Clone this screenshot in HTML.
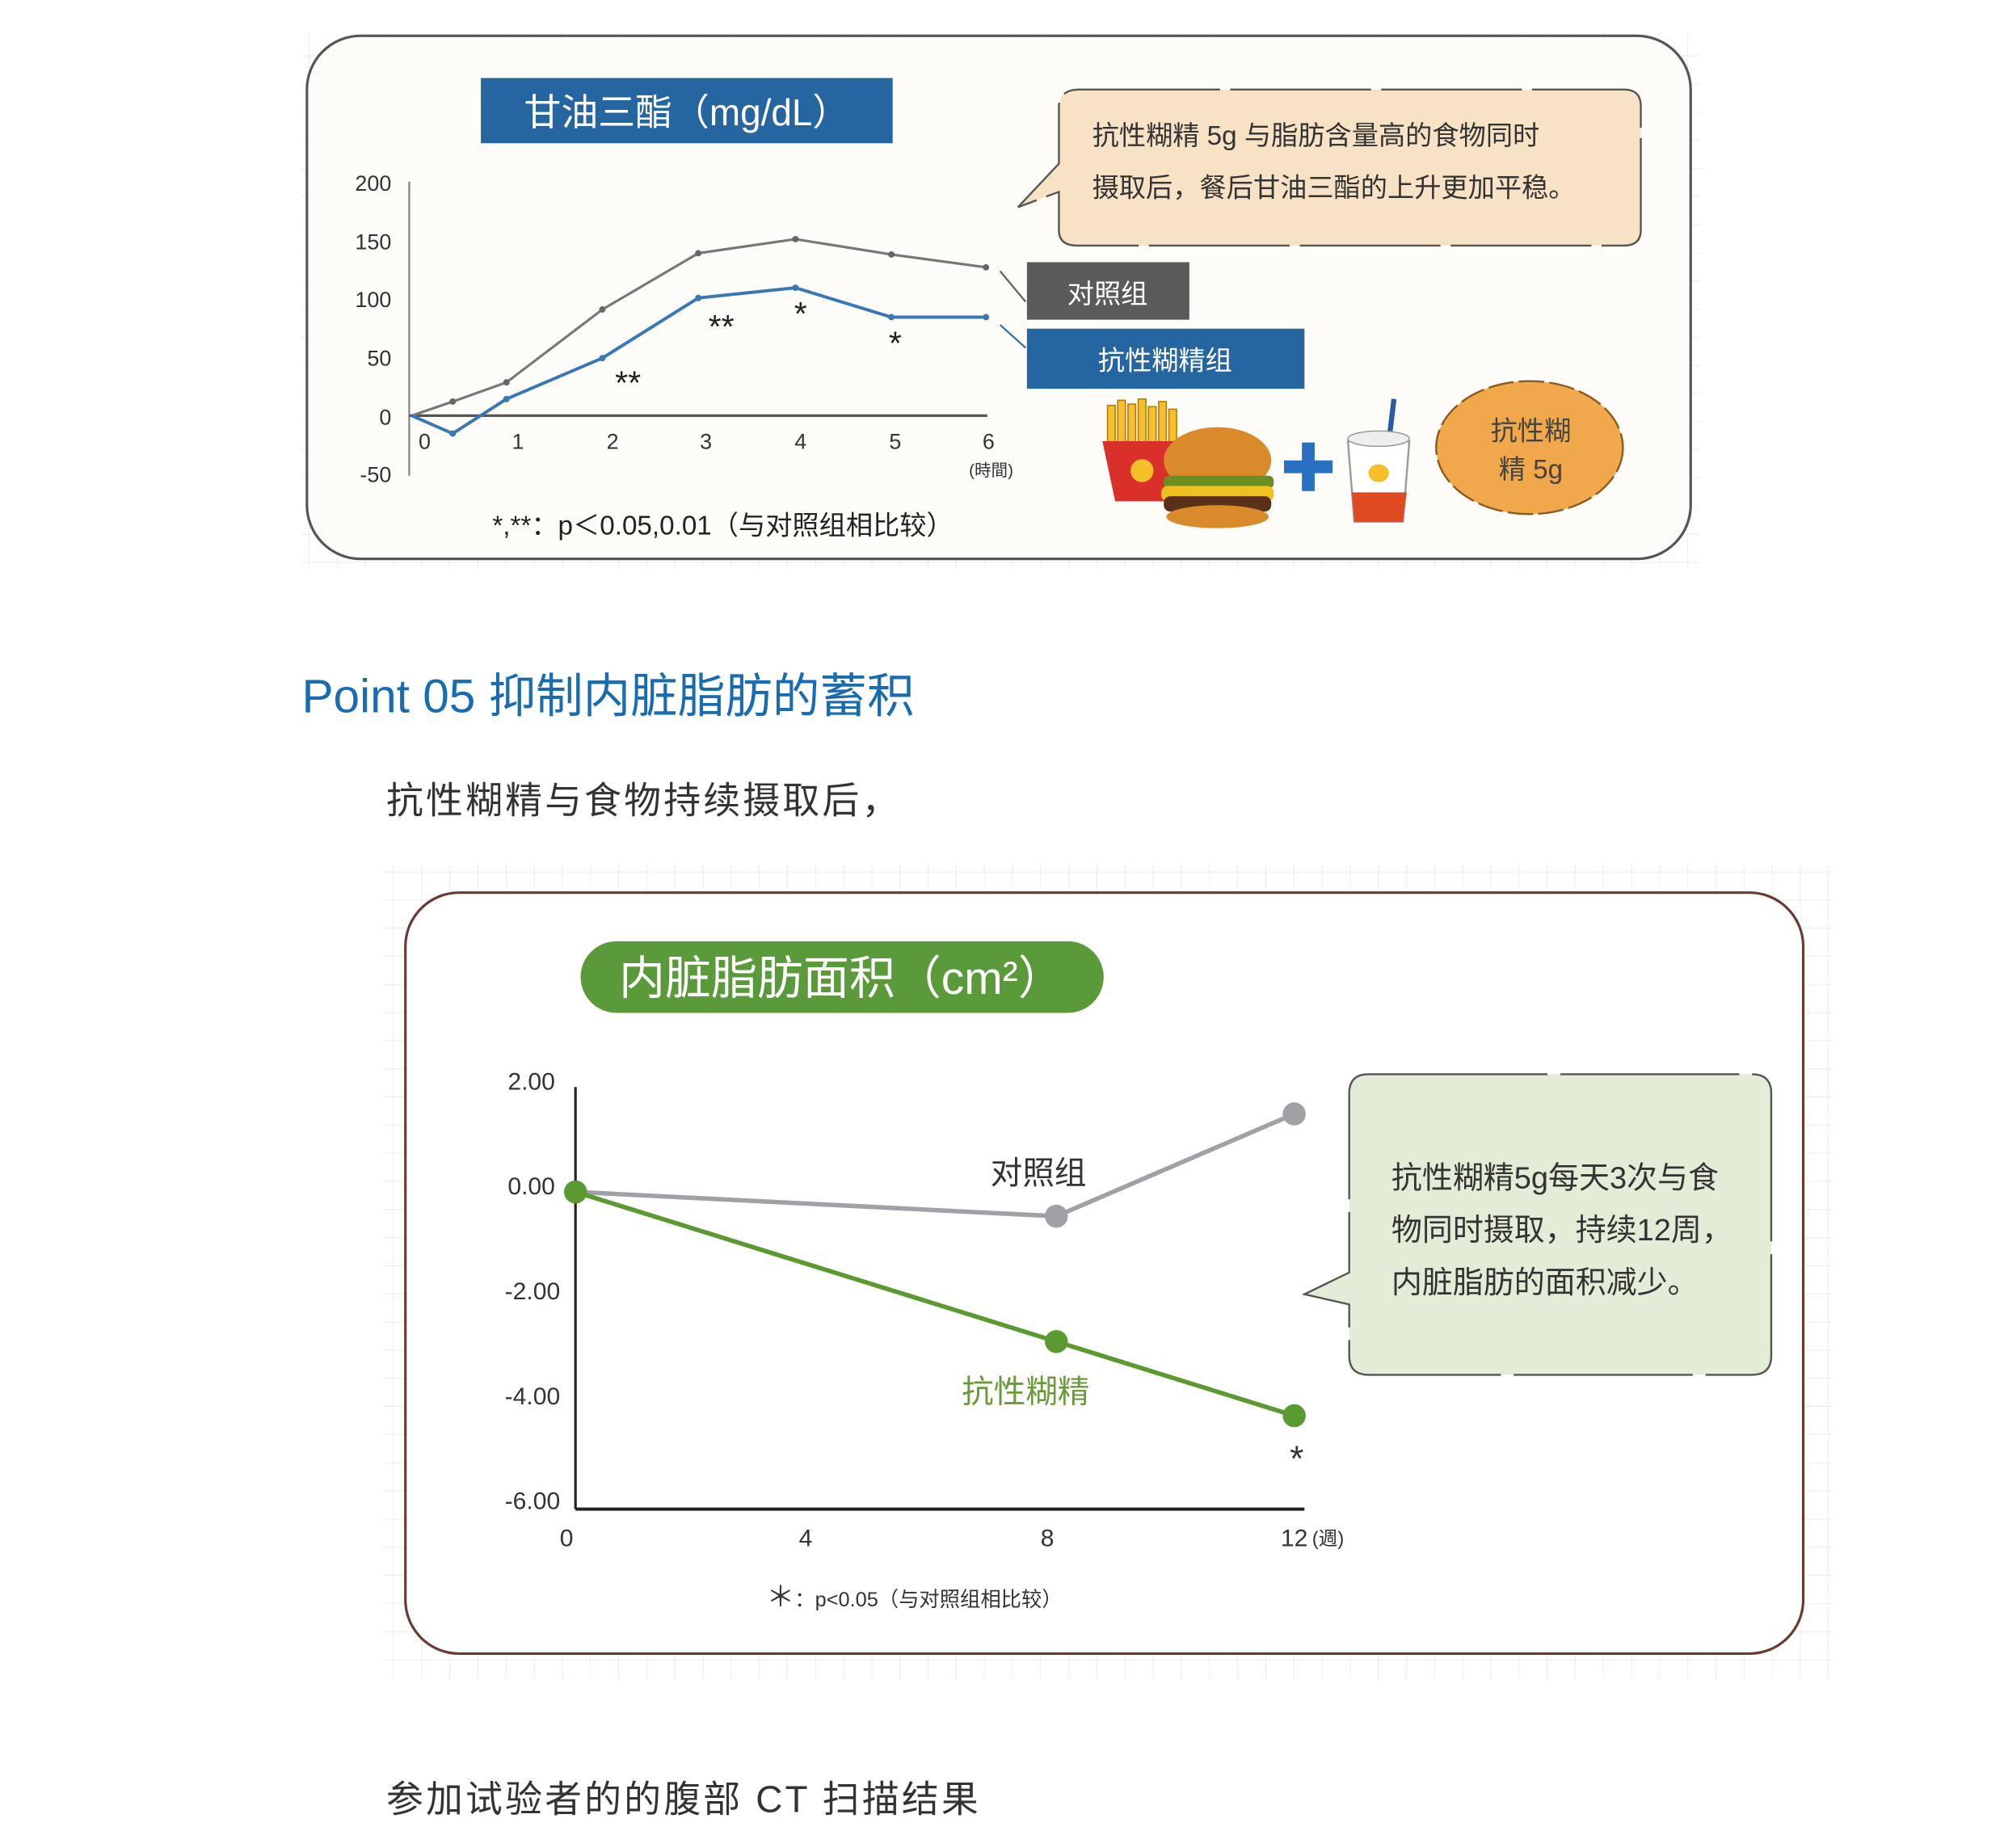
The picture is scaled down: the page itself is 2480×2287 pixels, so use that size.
<!DOCTYPE html>
<html><head><meta charset="utf-8"><style>
html,body{margin:0;padding:0;background:#fff}
svg{display:block}
text{font-family:"Liberation Sans","Noto Sans CJK SC",sans-serif}
</style></head><body>
<svg width="2480" height="2287" viewBox="0 0 1567 1445" preserveAspectRatio="none" xmlns="http://www.w3.org/2000/svg">
<defs>
<pattern id="g" width="22" height="22" patternUnits="userSpaceOnUse"><path d="M22 0V22M0 22H22" stroke="#e6e6e6" stroke-width="1" fill="none"/></pattern>
</defs>
<rect width="1567" height="1445" fill="#fff"/>
<!-- TOP PANEL -->
<rect x="236" y="26" width="1094" height="418" fill="url(#g)"/>
<rect x="240" y="28" width="1082" height="409" rx="42" fill="#fdfcf8" stroke="#555" stroke-width="2"/>
<rect x="376" y="61" width="322" height="51" fill="#2565a0"/>
<text x="537" y="98" font-size="29" fill="#fff" text-anchor="middle">甘油三酯（mg/dL）</text>
<g font-size="17" fill="#333" text-anchor="end">
<text x="306" y="149">200</text><text x="306" y="195">150</text><text x="306" y="240">100</text>
<text x="306" y="286">50</text><text x="306" y="332">0</text><text x="306" y="377">-50</text>
</g>
<line x1="320" y1="142" x2="320" y2="372" stroke="#888" stroke-width="1.5"/>
<line x1="320" y1="325" x2="772" y2="325" stroke="#555" stroke-width="2"/>
<g font-size="17" fill="#333" text-anchor="middle">
<text x="332" y="351">0</text><text x="405" y="351">1</text><text x="479" y="351">2</text><text x="552" y="351">3</text><text x="626" y="351">4</text><text x="700" y="351">5</text><text x="773" y="351">6</text>
<text x="775" y="372" font-size="13">(時間)</text>
</g>
<polyline points="322,325 354,314 396,299 471,242 546,198 622,187 697,199 771,209" fill="none" stroke="#777" stroke-width="2"/>
<polyline points="322,325 354,339 396,312 471,280 546,233 622,225 697,248 771,248" fill="none" stroke="#3a78b5" stroke-width="2.5"/>
<g fill="#666"><circle cx="354" cy="314" r="2.5"/><circle cx="396" cy="299" r="2.5"/><circle cx="471" cy="242" r="2.5"/><circle cx="546" cy="198" r="2.5"/><circle cx="622" cy="187" r="2.5"/><circle cx="697" cy="199" r="2.5"/><circle cx="771" cy="209" r="2.5"/></g>
<g fill="#3a78b5"><circle cx="354" cy="339" r="2.5"/><circle cx="396" cy="312" r="2.5"/><circle cx="471" cy="280" r="2.5"/><circle cx="546" cy="233" r="2.5"/><circle cx="622" cy="225" r="2.5"/><circle cx="697" cy="248" r="2.5"/><circle cx="771" cy="248" r="2.5"/></g>
<line x1="782" y1="212" x2="802" y2="236" stroke="#666" stroke-width="1.5"/>
<line x1="782" y1="254" x2="802" y2="272" stroke="#3a78b5" stroke-width="1.5"/>
<g font-size="26" fill="#222" text-anchor="middle">
<text x="491" y="308">**</text><text x="564" y="264">**</text><text x="626" y="254">*</text><text x="700" y="277">*</text>
</g>
<rect x="803" y="205" width="127" height="45" fill="#5b5b5b"/>
<text x="866" y="237" font-size="21" fill="#fff" text-anchor="middle">对照组</text>
<rect x="803" y="257" width="217" height="47" fill="#2565a0"/>
<text x="911" y="289" font-size="21" fill="#fff" text-anchor="middle">抗性糊精组</text>
<path d="M844,70 H1270 Q1283,70 1283,83 V180 Q1283,192 1270,192 H842 Q828,192 828,180 V150 L796,162 L828,128 V84 Q828,70 844,70Z" fill="#f8e2c6" stroke="#555" stroke-width="1.5" stroke-dasharray="110,8"/>
<text x="854" y="113" font-size="21" fill="#333">抗性糊精 5g 与脂肪含量高的食物同时</text>
<text x="854" y="154" font-size="21" fill="#333">摄取后，餐后甘油三酯的上升更加平稳。</text>
<text x="385" y="418" font-size="21" fill="#222">*,**：p＜0.05,0.01（与对照组相比较）</text>
<!-- food -->
<g>
<g stroke="#b87a00" stroke-width="1" fill="#f5c030">
<rect x="866" y="317" width="6" height="35"/><rect x="874" y="313" width="6" height="40"/><rect x="882" y="316" width="6" height="37"/><rect x="890" y="312" width="6" height="40"/><rect x="898" y="318" width="6" height="34"/><rect x="906" y="314" width="6" height="38"/><rect x="914" y="320" width="6" height="32"/></g>
<path d="M862,345 L924,345 L918,392 L872,392Z" fill="#d9302a"/>
<circle cx="893" cy="368" r="9" fill="#f4c02a"/>
<ellipse cx="952" cy="360" rx="42" ry="26" fill="#d98a2a"/>
<rect x="910" y="372" width="86" height="10" rx="4" fill="#6b8e23"/>
<rect x="908" y="380" width="88" height="12" rx="5" fill="#f0c020"/>
<rect x="910" y="388" width="84" height="12" rx="5" fill="#5a3018"/>
<ellipse cx="952" cy="404" rx="40" ry="9" fill="#d98a2a"/>
<rect x="1018" y="346" width="10" height="38" fill="#2a70c0"/><rect x="1004" y="360" width="38" height="10" fill="#2a70c0"/>
<line x1="1090" y1="312" x2="1086" y2="345" stroke="#2a5aa0" stroke-width="4"/>
<path d="M1054,345 L1102,345 L1097,408 L1059,408Z" fill="#fff" stroke="#999" stroke-width="1.5"/>
<path d="M1057,385 L1100,385 L1097,408 L1059,408Z" fill="#e04a20"/>
<ellipse cx="1078" cy="343" rx="24" ry="6" fill="#eee" stroke="#999"/>
<ellipse cx="1078" cy="370" rx="8" ry="7" fill="#f4c02a"/>
<ellipse cx="1196" cy="350" rx="73" ry="52" fill="#f0a84a" stroke="#8a5a20" stroke-width="1.5" stroke-dasharray="20,4"/>
<text x="1197" y="344" font-size="21" fill="#444" text-anchor="middle">抗性糊</text>
<text x="1197" y="374" font-size="21" fill="#444" text-anchor="middle">精 5g</text>
</g>
<!-- Middle text -->
<text x="236" y="557" font-size="37" fill="#1a6cb0">Point 05 抑制内脏脂肪的蓄积</text>
<text x="302" y="636" font-size="29" fill="#333" letter-spacing="2">抗性糊精与食物持续摄取后，</text>
<!-- BOTTOM PANEL -->
<rect x="300" y="676" width="1132" height="637" fill="url(#g)"/>
<rect x="317" y="698" width="1093" height="595" rx="42" fill="#fff" stroke="#6b3a2e" stroke-width="2"/>
<rect x="454" y="736" width="409" height="56" rx="28" fill="#5a9a3a"/>
<text x="658" y="777" font-size="36" fill="#fff" text-anchor="middle">内脏脂肪面积（cm²）</text>
<line x1="450" y1="850" x2="450" y2="1180" stroke="#222" stroke-width="2"/>
<line x1="450" y1="1180" x2="1020" y2="1180" stroke="#222" stroke-width="2.5"/>
<g font-size="19" fill="#333" text-anchor="end">
<text x="434" y="852">2.00</text><text x="434" y="934">0.00</text><text x="438" y="1016">-2.00</text><text x="438" y="1098">-4.00</text><text x="438" y="1180">-6.00</text>
</g>
<g font-size="19" fill="#333" text-anchor="middle">
<text x="443" y="1209">0</text><text x="630" y="1209">4</text><text x="819" y="1209">8</text><text x="1012" y="1209">12</text>
</g>
<text x="1026" y="1208" font-size="15" fill="#333">(週)</text>
<polyline points="450,932 826,951 1012,871" fill="none" stroke="#a0a0a6" stroke-width="3.5"/>
<polyline points="450,932 826,1049 1012,1107" fill="none" stroke="#5a9a30" stroke-width="3.5"/>
<circle cx="826" cy="951" r="9" fill="#a0a0a6"/><circle cx="1012" cy="871" r="9" fill="#a0a0a6"/>
<circle cx="450" cy="932" r="9" fill="#5a9a30"/><circle cx="826" cy="1049" r="9" fill="#5a9a30"/><circle cx="1012" cy="1107" r="9" fill="#5a9a30"/>
<text x="812" y="926" font-size="25" fill="#333" text-anchor="middle">对照组</text>
<text x="802" y="1097" font-size="25" fill="#6a9a3a" text-anchor="middle">抗性糊精</text>
<text x="1014" y="1150" font-size="28" fill="#333" text-anchor="middle">*</text>
<text x="715" y="1256" font-size="16" fill="#333" text-anchor="middle"><tspan font-size="22">＊</tspan>：p&lt;0.05（与对照组相比较）</text>
<path d="M1070,840 H1370 Q1385,840 1385,855 V1060 Q1385,1075 1370,1075 H1070 Q1055,1075 1055,1060 V1020 L1020,1012 L1055,995 V855 Q1055,840 1070,840Z" fill="#e3ecd6" stroke="#555" stroke-width="1.5" stroke-dasharray="140,10"/>
<g font-size="24" fill="#333">
<text x="1088" y="929">抗性糊精5g每天3次与食</text>
<text x="1088" y="970">物同时摄取，持续12周，</text>
<text x="1088" y="1011">内脏脂肪的面积减少。</text>
</g>
<text x="302" y="1417" font-size="29" fill="#333" letter-spacing="2">参加试验者的的腹部 CT 扫描结果</text>
</svg>
</body></html>
